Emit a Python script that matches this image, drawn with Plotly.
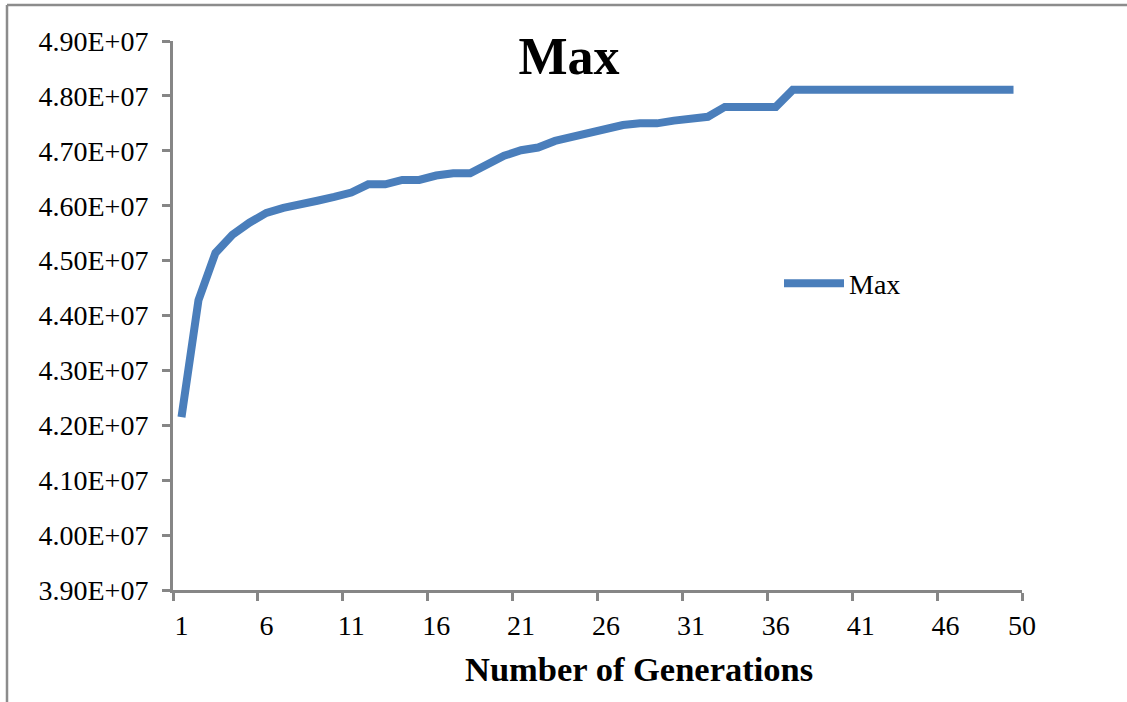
import plotly.graph_objects as go

# ---- data ----
generations = list(range(1, 51))
max_values = [
    4.215e7, 4.428e7, 4.514e7, 4.547e7, 4.569e7, 4.587e7, 4.596e7, 4.601e7, 4.609e7, 4.616e7,
    4.624e7, 4.639e7, 4.639e7, 4.647e7, 4.647e7, 4.655e7, 4.659e7, 4.659e7, 4.677e7, 4.691e7,
    4.701e7, 4.706e7, 4.718e7, 4.725e7, 4.732e7, 4.738e7, 4.747e7, 4.750e7, 4.750e7, 4.755e7,
    4.758e7, 4.762e7, 4.780e7, 4.780e7, 4.780e7, 4.780e7, 4.811e7, 4.811e7, 4.811e7, 4.811e7,
    4.811e7, 4.811e7, 4.811e7, 4.811e7, 4.811e7, 4.811e7, 4.811e7, 4.811e7, 4.811e7, 4.811e7,
]
x_tick_labels = ["1", "6", "11", "16", "21", "26", "31", "36", "41", "46", "50"]
x_tick_vals = [1, 6, 11, 16, 21, 26, 31, 36, 41, 46, 50.5]
x_boundary_ticks = [0.5, 5.5, 10.5, 15.5, 20.5, 25.5, 30.5, 35.5, 40.5, 45.5, 50.5]
y_tick_vals = [3.9e7, 4.0e7, 4.1e7, 4.2e7, 4.3e7, 4.4e7, 4.5e7, 4.6e7, 4.7e7, 4.8e7, 4.9e7]
y_tick_labels = ["3.90E+07", "4.00E+07", "4.10E+07", "4.20E+07", "4.30E+07", "4.40E+07",
                 "4.50E+07", "4.60E+07", "4.70E+07", "4.80E+07", "4.90E+07"]
series_name = "Max"
chart_title = "Max"
x_title = "Number of Generations"

FONT = "Liberation Serif, Times New Roman, serif"
AXIS_GRAY = "#868686"
LINE_BLUE = "#4A7EBB"
W, H = 1127, 702
ML, MR, MT, MB = 173, 105, 41, 112
PW, PH = W - ML - MR, H - MT - MB


def px_x(px):
    """pixel x in figure -> paper (plot-area) coordinate"""
    return (px - ML) / PW


def px_y(py):
    """pixel y in figure -> paper (plot-area) coordinate"""
    return (H - MB - py) / PH


fig = go.Figure()
fig.add_trace(go.Scatter(
    x=generations, y=max_values, mode="lines", name=series_name,
    line=dict(color=LINE_BLUE, width=8),
))

BORDER = dict(color="#8c8c8c", width=2.5)

fig.update_layout(
    width=W, height=H,
    margin=dict(l=ML, r=MR, t=MT, b=MB, pad=0),
    paper_bgcolor="white", plot_bgcolor="white",
    font=dict(family=FONT, size=28, color="black"),
    title=dict(text="<b>%s</b>" % chart_title, x=569 / W, xanchor="center",
               y=1 - 56 / H, yanchor="middle",
               font=dict(family=FONT, size=52, color="black")),
    showlegend=True,
    legend=dict(x=px_x(779), y=px_y(283.5), xanchor="left", yanchor="middle",
                bgcolor="rgba(0,0,0,0)", borderwidth=0,
                font=dict(family=FONT, size=28, color="black"),
                itemwidth=60),
    xaxis=dict(
        range=[0.5, 50.5], showgrid=False, zeroline=False,
        showline=True, linecolor=AXIS_GRAY, linewidth=3,
        tickmode="array", tickvals=x_tick_vals, ticktext=x_tick_labels,
        ticks="", ticklabelstandoff=8,
        tickfont=dict(family=FONT, size=28, color="black"),
        minor=dict(tickmode="array", tickvals=x_boundary_ticks, ticks="outside",
                   ticklen=8, tickwidth=3, tickcolor=AXIS_GRAY, showgrid=False),
    ),
    yaxis=dict(
        range=[3.9e7, 4.9e7], showgrid=False, zeroline=False,
        showline=True, linecolor=AXIS_GRAY, linewidth=3,
        tickmode="array", tickvals=y_tick_vals, ticktext=y_tick_labels,
        ticks="outside", ticklen=8, tickwidth=3, tickcolor=AXIS_GRAY,
        ticklabelstandoff=8,
        tickfont=dict(family=FONT, size=28, color="black"),
    ),
    annotations=[dict(
        text="<b>%s</b>" % x_title, xref="paper", yref="paper",
        x=px_x(638.5), y=px_y(669), xanchor="center", yanchor="middle",
        showarrow=False, font=dict(family=FONT, size=34.5, color="black"),
    )],
    shapes=[
        dict(type="line", xref="paper", yref="paper", x0=px_x(7), x1=px_x(7),
             y0=px_y(H + 5), y1=px_y(5), line=BORDER),
        dict(type="line", xref="paper", yref="paper", x0=px_x(7), x1=px_x(W + 5),
             y0=px_y(5), y1=px_y(5), line=BORDER),
    ],
)

fig.write_html("out.html", config={"displayModeBar": False},
               post_script="document.body.style.margin='0';")
